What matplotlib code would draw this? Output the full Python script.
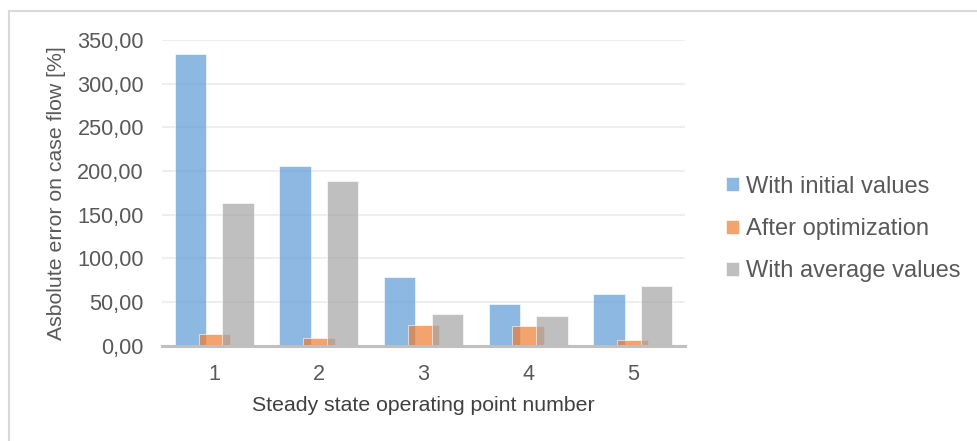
import numpy as np
import matplotlib
matplotlib.use("Agg")
import matplotlib.pyplot as plt
from matplotlib import rcParams
from matplotlib.patches import Rectangle
from matplotlib.ticker import FuncFormatter

font_size = 15.3
tick_font_size = 15.6
legend_font_size = 17
rcParams.update({
    "font.family": ["Liberation Sans", "DejaVu Sans"],
    "font.size": font_size,
    "text.color": "#595959",
    "axes.labelcolor": "#595959",
    "xtick.color": "#595959",
    "ytick.color": "#595959",
})

points = [1, 2, 3, 4, 5]
initial_values = [333.4, 205.6, 78.6, 47.4, 59.2]
after_opt = [13.4, 8.5, 23.7, 22.9, 6.2]
average_values = [163.0, 188.4, 36.6, 34.3, 68.0]
y_ticks = [0, 50, 100, 150, 200, 250, 300, 350]

fig = plt.figure(figsize=(9.78, 4.41), dpi=100)
ax = fig.add_axes([162/978, 1-345.7/441, (685-162)/978, (345.7-40)/441])

x = np.array(points)
w = 0.30
off = 0.227
ax.bar(x - off, initial_values, w, color='#5B9BD5', alpha=0.7, label="With initial values",
       edgecolor='white', linewidth=0.6, zorder=3)
ax.bar(x, after_opt, w, color='#ED7D31', alpha=0.7, label="After optimization",
       edgecolor='white', linewidth=0.6, zorder=3)
ax.bar(x + off, average_values, w, color='#A5A5A5', alpha=0.7, label="With average values",
       edgecolor='white', linewidth=0.6, zorder=3)

ax.set_xlim(0.5, 5.5)
ax.set_ylim(0, 350)
ax.set_yticks(y_ticks)
ax.yaxis.set_major_formatter(FuncFormatter(lambda v, p: f"{v:.2f}".replace('.', ',')))
ax.set_xticks(points)
ax.grid(axis='y', color='#eeeeee', linewidth=1.5, zorder=0)
ax.set_axisbelow(True)

for s in ['top', 'right', 'left']:
    ax.spines[s].set_visible(False)
ax.spines['bottom'].set_color('#bfbfbf')
ax.spines['bottom'].set_linewidth(2.2)
ax.spines['bottom'].set_zorder(4)
ax.tick_params(axis='both', length=0, labelsize=tick_font_size)
ax.tick_params(axis='y', pad=13)
ax.tick_params(axis='x', pad=13)

ax.set_xlabel("Steady state operating point number", labelpad=8, color='#404040')
ax.set_ylabel("Asbolute error on case flow [%]", labelpad=8)

handles, labels = ax.get_legend_handles_labels()
fig.legend(handles, labels, loc='center left', bbox_to_anchor=(705/978, 1 - 229/441),
           frameon=False, handlelength=0.55, handleheight=0.55, handletextpad=0.3,
           labelspacing=0.86, fontsize=legend_font_size)

# outer chart border
fig.patches.append(Rectangle((9/978, -0.2), 1.2, 1.2 - 11/441, transform=fig.transFigure,
                             fill=False, edgecolor='#d9d9d9', linewidth=1.5))

plt.savefig("out.png", dpi=100)
plt.close()
